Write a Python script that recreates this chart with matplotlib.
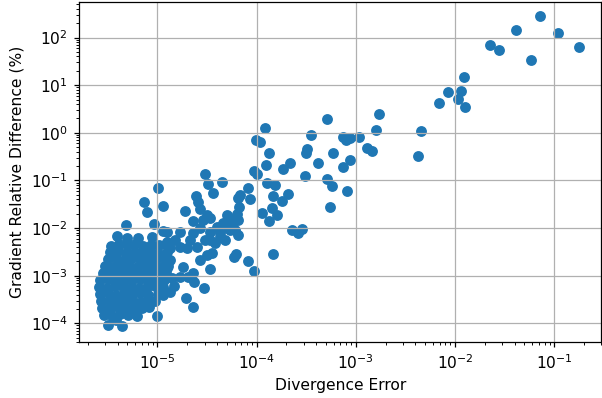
import numpy as np
import matplotlib
matplotlib.use('Agg')
import matplotlib.pyplot as plt

# points outside the dense low-error cluster
div_err_sparse = [
    0.072, 0.041, 0.109, 0.0227, 0.0278, 0.18, 0.058, 0.0124, 0.0085, 0.0114,
    0.0107, 0.0069, 0.0126, 0.00171, 0.00161, 0.00452, 0.00424,
    7.5e-4, 8.8e-4, 1.08e-3, 8.0e-4, 1.31e-3, 1.46e-3, 5.95e-4, 8.7e-4, 7.4e-4,
    5.1e-4, 5.7e-4, 8.2e-4, 5.55e-4, 3.52e-4, 3.2e-4, 3.13e-4, 4.17e-4, 3.1e-4, 5.1e-4,
    1.23e-4, 9.9e-5, 1.08e-4, 1.34e-4, 2.16e-4, 1.85e-4, 1.26e-4, 9.5e-5, 1.02e-4,
    3.04e-5, 1.27e-4, 1.54e-4, 3.24e-5, 4.52e-5, 1.01e-5, 3.64e-5, 2.43e-5, 8.2e-5,
    6.8e-5, 8.6e-5, 6.55e-5, 1.48e-4, 2.1e-4, 1.8e-4,
    7.35e-6, 7.8e-6, 1.13e-5, 2.56e-5, 2.67e-5, 1.88e-5, 6.7e-5, 6.3e-5, 1.14e-4,
    1.43e-4, 1.61e-4, 1.34e-4, 2.3e-4, 2.64e-4, 2.9e-4, 1.48e-4, 9.4e-5, 8.2e-5,
    5.9e-5, 6.2e-5, 3.4e-5, 2.94e-5, 2.31e-5, 1.96e-5, 1.0e-5, 3.2e-6, 4.44e-6,
    4.8e-6, 3.9e-6, 9.2e-6, 1.47e-5, 1.83e-5, 2.31e-5, 2.35e-5, 1.69e-5, 2.05e-5,
    2.7e-5, 3.15e-5, 3.54e-5,
    1.24e-5, 1.69e-5, 2.31e-5, 3.4e-5, 4.28e-5, 5.4e-5,
    3.15e-5, 2.31e-5, 2.9e-5, 3.4e-5, 5.0e-5, 5.6e-5, 4.6e-5, 3.97e-5,
    1.69e-5, 1.98e-5, 2.49e-5, 3.4e-5, 4.28e-5,
    5.8e-5, 6.1e-5, 6.55e-5, 6.55e-5,
    1.24e-5, 1.2e-5, 1.24e-5, 1.15e-5,
    4.9e-6, 6.4e-6, 8.8e-6, 1.15e-5,
    1.34e-5, 1.41e-5, 3.84e-6,
    3.03e-5, 3.82e-5, 4.82e-5, 5.16e-5, 2.7e-5, 2.14e-5, 1.51e-5, 1.34e-5,
]
grad_diff_sparse = [
    282, 143, 127, 71, 56, 64, 34.5, 15, 7.1, 7.5,
    5.2, 4.25, 3.4, 2.5, 1.15, 1.08, 0.32,
    0.81, 0.77, 0.82, 0.71, 0.47, 0.42, 0.37, 0.27, 0.195,
    1.96, 0.077, 0.061, 0.028, 0.92, 0.45, 0.37, 0.237, 0.124, 0.109,
    1.25, 0.69, 0.635, 0.37, 0.237, 0.174, 0.209, 0.161, 0.137,
    0.135, 0.09, 0.081, 0.084, 0.091, 0.07, 0.054, 0.048, 0.069,
    0.050, 0.041, 0.042, 0.047, 0.052, 0.037,
    0.036, 0.022, 0.029, 0.0345, 0.025, 0.0225, 0.028, 0.0197, 0.021,
    0.0267, 0.019, 0.0138, 0.0089, 0.0078, 0.0096, 0.0028, 0.00125, 0.002,
    0.0025, 0.0028, 0.0014, 5.6e-4, 2.2e-4, 3.35e-4, 1.42e-4, 9.4e-5, 8.7e-5,
    0.0115, 0.0069, 0.0121, 6.1e-4, 1.55e-3, 1.14e-3, 7.5e-4, 9.2e-4, 9.2e-4,
    2.14e-3, 2.7e-3, 2.95e-3,
    8.4e-3, 8.4e-3, 7.8e-3, 8.4e-3, 7.8e-3, 9.1e-3,
    0.0188, 0.0141, 0.0148, 0.0161, 0.0188, 0.0148, 0.0126, 0.0107,
    4.07e-3, 3.76e-3, 4.07e-3, 5.6e-3, 6.6e-3,
    0.0136, 9.1e-3, 7.2e-3, 0.0148,
    5.2e-3, 2.72e-3, 1.43e-3, 3.93e-4,
    6.1e-3, 6.3e-3, 6.6e-3, 8.8e-3,
    4.5e-4, 8.9e-4, 1.17e-4,
    5.6e-3, 4.87e-3, 5.6e-3, 1.0e-2, 1.0e-2, 5.6e-3, 5.6e-3, 3.82e-3,
]

# dense cluster at the smallest divergence errors
div_err_cluster = [
    3.42e-6, 4.11e-6, 4.95e-6, 5.96e-6, 7.18e-6, 8.64e-6, 1.04e-5, 1.22e-5,
    3.34e-6, 4.02e-6, 4.84e-6, 5.82e-6, 7.01e-6, 8.45e-6, 1.02e-5, 1.25e-5,
    3.18e-6, 3.84e-6, 4.62e-6, 5.56e-6, 6.69e-6, 8.06e-6, 9.72e-6, 1.17e-5, 1.34e-5,
    2.97e-6, 3.58e-6, 4.31e-6, 5.18e-6, 6.24e-6, 7.52e-6, 9.06e-6, 1.09e-5, 1.28e-5,
    2.83e-6, 3.42e-6, 4.11e-6, 4.95e-6, 5.96e-6, 7.18e-6, 8.64e-6, 1.04e-5, 1.22e-5,
    2.64e-6, 3.18e-6, 3.84e-6, 4.62e-6, 5.56e-6, 6.69e-6, 8.06e-6, 9.72e-6, 1.17e-5,
    2.58e-6, 3.11e-6, 3.75e-6, 4.51e-6, 5.43e-6, 6.54e-6, 7.88e-6, 9.50e-6, 1.14e-5,
    2.64e-6, 3.18e-6, 3.84e-6, 4.62e-6, 5.56e-6, 6.69e-6, 8.06e-6, 1.02e-5,
    2.71e-6, 3.26e-6, 3.93e-6, 4.73e-6, 5.69e-6, 6.85e-6, 8.25e-6, 9.5e-6,
    2.77e-6, 3.34e-6, 4.02e-6, 4.84e-6, 5.82e-6, 7.01e-6, 8.25e-6,
    2.90e-6, 3.50e-6, 4.21e-6, 5.06e-6, 6.24e-6,
]
grad_diff_cluster = [
    4.3e-3, 4.6e-3, 4.4e-3, 4.7e-3, 4.2e-3, 4.5e-3, 4.4e-3, 4.6e-3,
    3.1e-3, 3.3e-3, 3.0e-3, 3.2e-3, 3.1e-3, 3.3e-3, 3.0e-3, 3.2e-3,
    2.2e-3, 2.3e-3, 2.1e-3, 2.3e-3, 2.2e-3, 2.4e-3, 2.2e-3, 2.3e-3, 2.1e-3,
    1.6e-3, 1.55e-3, 1.65e-3, 1.6e-3, 1.5e-3, 1.65e-3, 1.6e-3, 1.55e-3, 1.6e-3,
    1.15e-3, 1.1e-3, 1.18e-3, 1.12e-3, 1.14e-3, 1.1e-3, 1.17e-3, 1.13e-3, 1.15e-3,
    8.1e-4, 8.4e-4, 7.9e-4, 8.2e-4, 8.0e-4, 8.5e-4, 7.8e-4, 8.2e-4, 8.0e-4,
    5.8e-4, 5.6e-4, 6.0e-4, 5.7e-4, 5.9e-4, 5.6e-4, 5.8e-4, 6.0e-4, 5.7e-4,
    4.1e-4, 4.3e-4, 4.0e-4, 4.2e-4, 4.1e-4, 4.3e-4, 4.0e-4, 4.2e-4,
    2.9e-4, 3.0e-4, 2.8e-4, 3.0e-4, 2.9e-4, 2.8e-4, 3.0e-4, 2.9e-4,
    2.1e-4, 2.0e-4, 2.2e-4, 2.1e-4, 2.0e-4, 2.1e-4, 2.2e-4,
    1.5e-4, 1.45e-4, 1.55e-4, 1.5e-4, 1.45e-4,
]

div_err = np.array(div_err_sparse + div_err_cluster)
grad_diff = np.array(grad_diff_sparse + grad_diff_cluster)

fig = plt.figure(figsize=(5.4, 3.57), dpi=111.5)
ax = fig.add_subplot(1, 1, 1)
fig.subplots_adjust(left=0.131, right=0.999, top=0.996, bottom=0.14)

ax.scatter(div_err, grad_diff)
ax.set_xscale('log')
ax.set_yscale('log')
ax.set_xlim(1.62e-6, 0.3)
ax.set_ylim(4.0e-5, 570)
ax.grid(True)
ax.set_xlabel('Divergence Error')
ax.set_ylabel('Gradient Relative Difference (%)')

fig.savefig('out.png', dpi=111.5)
